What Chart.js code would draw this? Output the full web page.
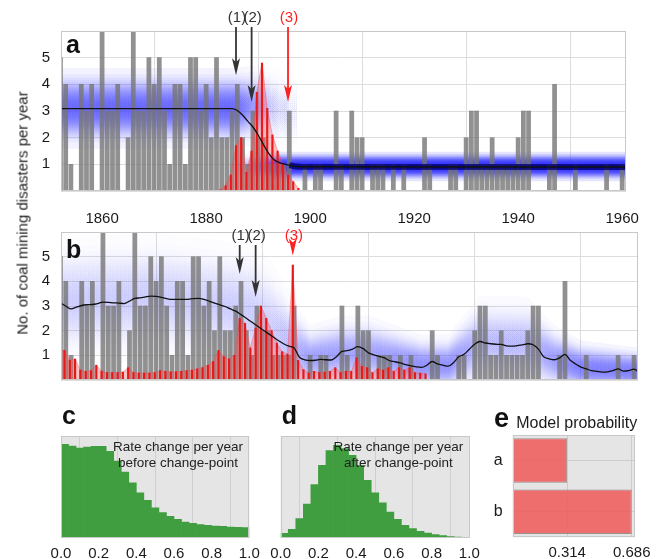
<!DOCTYPE html>
<html><head><meta charset="utf-8">
<script src="https://cdn.jsdelivr.net/npm/chart.js@4.4.1/dist/chart.umd.min.js"></script>
<style>
html,body{margin:0;padding:0;background:#fff;width:658px;height:559px;overflow:hidden;position:relative;}
canvas{position:absolute;}
#ytitle{position:absolute;left:22px;top:213px;transform:translate(-50%,-50%) rotate(-90deg);font:15px "Liberation Sans",Arial,Helvetica,sans-serif;color:#222;white-space:nowrap;}
</style></head><body>
<canvas id="ca" width="658" height="230" style="left:0;top:0"></canvas>
<canvas id="cb" width="658" height="200" style="left:0;top:200px"></canvas>
<canvas id="cc" width="270" height="159" style="left:0;top:400px"></canvas>
<canvas id="cd" width="228" height="159" style="left:262px;top:400px"></canvas>
<canvas id="ce" width="180" height="159" style="left:478px;top:400px"></canvas>
<div id="ytitle">No. of coal mining disasters per year</div>
<script>
// ---------------- data ----------------
const years = [1852,1853,1854,1855,1856,1857,1858,1859,1860,1861,1862,1863,1864,1865,1866,1867,1868,1869,1870,1871,1872,1873,1874,1875,1876,1877,1878,1879,1880,1881,1882,1883,1884,1885,1886,1887,1888,1889,1890,1891,1892,1893,1894,1895,1896,1897,1898,1899,1900,1901,1902,1903,1904,1905,1906,1907,1908,1909,1910,1911,1912,1913,1914,1915,1916,1917,1918,1919,1920,1921,1922,1923,1924,1925,1926,1927,1928,1929,1930,1931,1932,1933,1934,1935,1936,1937,1938,1939,1940,1941,1942,1943,1944,1945,1946,1947,1948,1949,1950,1951,1952,1953,1954,1955,1956,1957,1958,1959,1960,1961];
const disasters = [5,4,1,0,4,3,4,0,6,3,3,4,0,2,6,3,3,5,4,5,3,1,4,4,1,5,5,3,4,2,5,2,2,3,4,2,1,3,2,2,1,1,1,1,3,0,0,1,0,1,1,0,0,3,1,0,3,2,2,0,1,1,1,0,1,0,1,0,0,0,2,1,0,0,0,1,1,0,2,3,3,1,1,2,1,1,1,1,2,3,3,0,0,0,1,4,0,0,0,1,0,0,0,0,0,1,0,0,1,0];

// model a: single change-point mean rate
const meanAYears = [1852,1885,1886,1887,1888,1889,1890,1891,1892,1893,1894,1895,1896,1897,1898,1961];
const meanAValues = [3.09,3.09,3.02,2.85,2.62,2.4,2.1,1.75,1.42,1.18,1.07,1.01,0.97,0.93,0.91,0.9];
// model b: mean rate per year
const meanBValues = [3.12,3.0,2.88,2.95,3.02,3.05,3.06,3.1,3.16,3.15,3.13,3.12,3.1,3.2,3.31,3.33,3.37,3.4,3.39,3.35,3.3,3.27,3.27,3.27,3.27,3.3,3.31,3.27,3.2,3.12,3.05,2.98,2.88,2.79,2.65,2.5,2.35,2.2,2.05,1.9,1.75,1.6,1.47,1.37,1.3,0.92,0.82,0.79,0.8,0.84,0.82,0.81,0.95,1.16,1.19,1.25,1.35,1.27,1.1,1.02,0.96,0.9,0.78,0.74,0.69,0.62,0.57,0.53,0.51,0.6,0.75,0.65,0.6,0.56,0.7,0.94,1.04,1.25,1.45,1.56,1.5,1.47,1.45,1.44,1.38,1.37,1.39,1.42,1.47,1.43,1.25,0.94,0.86,0.82,0.9,1.04,0.8,0.65,0.52,0.45,0.38,0.35,0.32,0.33,0.38,0.45,0.36,0.38,0.44,0.3];

// change-point posterior (scaled), model a
const cpAYears = [1883,1884,1885,1886,1887,1888,1889,1890,1891,1892,1893,1894,1895,1896,1897,1898];
const cpAValues = [0.05,0.2,0.6,1.7,2.0,0.7,1.5,3.7,4.8,3.1,2.1,1.5,1.0,0.6,0.35,0.1];
// change-point posterior (scaled), model b
const cpBYears = [1852,1853,1854,1855,1856,1857,1858,1859,1860,1861,1862,1863,1864,1865,1866,1867,1868,1869,1870,1871,1872,1873,1874,1875,1876,1877,1878,1879,1880,1881,1882,1883,1884,1885,1886,1887,1888,1889,1890,1891,1892,1893,1894,1895,1896,1897,1898,1899,1900,1901,1902,1903,1904,1905,1906,1907,1908,1909,1910,1911,1912,1913,1914,1915,1916,1917,1918,1919,1920,1921];
const cpBValues = [1.25,1.2,0.8,0.85,0.4,0.35,0.38,0.6,0.35,0.3,0.3,0.3,0.32,0.5,0.3,0.28,0.28,0.28,0.3,0.38,0.35,0.33,0.33,0.35,0.38,0.4,0.45,0.5,0.6,0.75,1.2,0.95,0.85,1.0,2.5,2.3,1.3,2.1,3.0,2.5,2.0,1.5,1.15,1.05,4.66,0.8,0.42,0.28,0.35,0.3,0.32,0.35,0.5,0.3,0.35,0.35,0.9,0.55,0.5,0.3,0.45,0.4,0.5,0.35,0.5,0.4,0.5,0.3,0.28,0.25];

// posterior rate density bands
const bandAPreYears  = [1852,1885,1887,1889,1891,1893,1895,1897,1898];
const bandAPreMean   = [3.1,3.1,3.15,3.2,3.2,3.1,3.0,2.9,2.9];
const bandAPreSigma  = [0.55,0.55,0.55,0.55,0.55,0.55,0.55,0.55,0.55];
const bandAPreWeight = [1,1,0.85,0.65,0.45,0.3,0.2,0.06,0];
const bandAPostYears  = [1884,1886,1888,1890,1892,1894,1896,1898,1961];
const bandAPostMean   = [0.92,0.92,0.92,0.92,0.92,0.92,0.92,0.92,0.92];
const bandAPostSigma  = [0.2,0.2,0.2,0.2,0.2,0.2,0.2,0.2,0.2];
const bandAPostWeight = [0,0.1,0.25,0.45,0.65,0.8,0.9,1,1];
const bandBYears = [1852,1870,1884,1888,1892,1896,1899,1905,1910,1920,1925,1931,1940,1945,1950,1961];
const bandBMean  = [3.2,3.35,3.0,2.6,2.0,1.3,0.85,1.1,1.1,0.6,0.6,1.5,1.45,0.85,0.5,0.35];
const bandBSigma = [0.95,0.95,0.95,1.1,1.0,0.7,0.5,0.55,0.55,0.45,0.45,0.7,0.7,0.5,0.4,0.35];
const bandBWeight = [1,1,1,1,1,1,1,1,1,1,1,1,1,1,1,1];

// annotated change-points
const markYears = [1886,1889,1896];
const markLabels = ['(1)','(2)','(3)'];
const markTipsA = [4.34,3.34,3.34];
const markTipsB = [4.3,3.36,5.05];

// histograms of rate change per year
const rateBins = [0.02,0.06,0.10,0.14,0.18,0.22,0.26,0.30,0.34,0.38,0.42,0.46,0.50,0.54,0.58,0.62,0.66,0.70,0.74,0.78,0.82,0.86,0.90,0.94,0.98];
const rateBefore = [0.918,0.902,0.882,0.892,0.899,0.899,0.850,0.755,0.647,0.542,0.444,0.369,0.297,0.248,0.212,0.183,0.157,0.144,0.131,0.124,0.118,0.114,0.108,0.105,0.101];
const rateAfter = [0.046,0.085,0.190,0.333,0.523,0.712,0.856,0.908,0.876,0.810,0.712,0.565,0.444,0.346,0.255,0.183,0.124,0.092,0.065,0.049,0.033,0.023,0.013,0.010,0.007];

// model probability
const modelNames = ['a','b'];
const modelProbs = [0.314,0.686];

// ---------------- helpers ----------------
const FONT = '"Liberation Sans", Arial, Helvetica, sans-serif';
const SPIKE_SHIFT = -0.25;
const pts = (xs, ys, shift) => xs.map((x, i) => ({x: x + (shift || 0), y: ys[i]}));

const framePlugin = {
  id: 'frame',
  beforeDraw(chart, args, opts) {
    if (!opts.bg) return;
    const a = chart.chartArea, c = chart.ctx;
    c.save(); c.fillStyle = opts.bg; c.fillRect(a.left, a.top, a.right - a.left, a.bottom - a.top); c.restore();
  },
  afterDraw(chart, args, opts) {
    const a = chart.chartArea, c = chart.ctx;
    c.save(); c.strokeStyle = opts.color || '#c4c4c4'; c.lineWidth = 1;
    c.strokeRect(Math.round(a.left) + 0.5, Math.round(a.top) + 0.5, Math.round(a.right - a.left) - 1, Math.round(a.bottom - a.top) - 1);
    (opts.texts || []).forEach(t => {
      c.font = t.font; c.fillStyle = t.color || '#111'; c.textAlign = t.align || 'left'; c.textBaseline = t.baseline || 'alphabetic';
      c.fillText(t.text, t.x, t.y);
    });
    c.restore();
  }
};

const bandPlugin = {
  id: 'bands',
  beforeDatasetsDraw(chart, args, opts) {
    const bands = opts.list || [];
    const {ctx, chartArea: ca, scales: {x, y}} = chart;
    ctx.save();
    ctx.beginPath(); ctx.rect(ca.left, ca.top, ca.right - ca.left, ca.bottom - ca.top); ctx.clip();
    bands.forEach(b => {
      const n = b.x.length, L = b.layers || 22;
      const px = b.x.map(v => x.getPixelForValue(v));
      const x0 = px[0], x1 = px[n - 1];
      for (let j = 0; j < L; j++) {
        const k = Math.sqrt(-2 * Math.log((j + 0.5) / L));
        const grad = ctx.createLinearGradient(x0, 0, x1, 0);
        for (let i = 0; i < n; i++) {
          const A = Math.min(b.maxA, b.w[i] * b.K / b.s[i]);
          const al = 1 - Math.pow(1 - A, 1 / L);
          grad.addColorStop((px[i] - x0) / (x1 - x0), `rgba(${b.rgb},${al.toFixed(4)})`);
        }
        ctx.beginPath();
        for (let i = 0; i < n; i++) {
          const yy = y.getPixelForValue(b.m[i] + k * b.s[i]);
          if (i) ctx.lineTo(px[i], yy); else ctx.moveTo(px[i], yy);
        }
        for (let i = n - 1; i >= 0; i--) ctx.lineTo(px[i], y.getPixelForValue(b.m[i] - k * b.s[i]));
        ctx.closePath();
        ctx.fillStyle = grad; ctx.fill();
      }
    });
    ctx.restore();
  }
};

const arrowPlugin = {
  id: 'arrows',
  afterDraw(chart, args, opts) {
    if (!opts.items) return;
    const {ctx, scales: {x, y}} = chart;
    ctx.save();
    opts.items.forEach(it => {
      const xp = x.getPixelForValue(it.x);
      const tip = y.getPixelForValue(it.tip);
      ctx.fillStyle = it.color; ctx.strokeStyle = it.color;
      ctx.font = '15px ' + FONT; ctx.textAlign = 'center'; ctx.textBaseline = 'middle';
      ctx.fillText(it.label, xp + 1, opts.labelY);
      ctx.lineWidth = 1.8;
      ctx.beginPath(); ctx.moveTo(xp, opts.startY); ctx.lineTo(xp, tip - 12); ctx.stroke();
      ctx.beginPath(); ctx.moveTo(xp, tip); ctx.lineTo(xp - 4, tip - 17); ctx.lineTo(xp, tip - 13); ctx.lineTo(xp + 4, tip - 17); ctx.closePath(); ctx.fill();
    });
    ctx.restore();
  }
};
Chart.register(framePlugin, bandPlugin, arrowPlugin);

const tickFont = {family: FONT, size: 15};
function timeScales(showX) {
  return {
    x: {type: 'linear', min: 1852.1, max: 1960.75, offset: false,
        grid: {color: '#dddddd', drawTicks: false}, border: {display: false},
        ticks: {display: showX, stepSize: 20, includeBounds: false, font: tickFont, color: '#1a1a1a', padding: 19, callback: v => String(v), maxRotation: 0},
        afterFit: s => { s.height = showX ? 39 : 7; }},
    y: {min: 0, max: 6, grid: {color: '#dddddd', drawTicks: false}, border: {display: false},
        ticks: {stepSize: 1, font: tickFont, color: '#1a1a1a', padding: 11, callback: v => (v > 0 && v < 6) ? String(v) : ''},
        afterFit: s => { s.width = 61; }}
  };
}
const common = {responsive: false, animation: false, devicePixelRatio: 1, events: []};
const markItems = (tips) => markYears.map((yr, i) => ({x: yr + SPIKE_SHIFT, tip: tips[i], label: markLabels[i], color: i < 2 ? '#333333' : '#ff2020'}));

// ---------------- panel a ----------------
new Chart(document.getElementById('ca'), {
  type: 'bar',
  data: {datasets: [
    {type: 'line', data: pts(meanAYears, meanAValues), borderColor: '#111', borderWidth: 1.3, pointRadius: 0, cubicInterpolationMode: 'monotone', order: 0},
    {type: 'line', data: pts(meanAYears, meanAValues).filter(p => p.x >= 1896), borderColor: 'rgba(0,0,110,0.8)', borderWidth: 6, pointRadius: 0, order: 1},
    {type: 'bar', data: pts(cpAYears, cpAValues, SPIKE_SHIFT), backgroundColor: 'rgb(235,25,25)', barThickness: 1.5, grouped: false, order: 2},
    {type: 'line', data: pts(cpAYears, cpAValues, SPIKE_SHIFT), fill: 'origin', backgroundColor: 'rgba(255,80,80,0.35)', borderColor: 'rgba(255,60,60,0.5)', borderWidth: 0.8, pointRadius: 0, order: 3},
    {type: 'bar', data: pts(years, disasters), backgroundColor: 'rgba(118,118,118,0.8)', barThickness: 4.1, grouped: false, order: 5}
  ]},
  options: Object.assign({}, common, {
    layout: {padding: {top: 31, right: 20, left: 0, bottom: 0}},
    scales: timeScales(true),
    plugins: {legend: {display: false}, tooltip: {enabled: false},
      frame: {color: '#c8c8c8', texts: [{text: 'a', x: 66, y: 53, font: 'bold 25px ' + FONT}]},
      bands: {list: [
        {x: bandAPreYears, m: bandAPreMean, s: bandAPreSigma, w: bandAPreWeight, rgb: '60,60,255', K: 0.42, maxA: 0.85},
        {x: bandAPostYears, m: bandAPostMean, s: bandAPostSigma, w: bandAPostWeight, rgb: '40,40,255', K: 0.25, maxA: 0.95}
      ]},
      arrows: {labelY: 18, startY: 27, items: markItems(markTipsA)}
    }
  })
});

// ---------------- panel b ----------------
new Chart(document.getElementById('cb'), {
  type: 'bar',
  data: {datasets: [
    {type: 'line', data: pts(years, meanBValues), borderColor: '#111', borderWidth: 1.3, pointRadius: 0, cubicInterpolationMode: 'monotone', order: 0},
    {type: 'bar', data: pts(cpBYears, cpBValues, SPIKE_SHIFT), backgroundColor: 'rgb(230,25,25)', barThickness: 1.5, grouped: false, order: 2},
    {type: 'line', data: pts(cpBYears, cpBValues, SPIKE_SHIFT), fill: 'origin', backgroundColor: 'rgba(255,80,80,0.35)', borderColor: 'rgba(255,60,60,0.45)', borderWidth: 0.8, pointRadius: 0, order: 3},
    {type: 'bar', data: pts(years, disasters), backgroundColor: 'rgba(118,118,118,0.8)', barThickness: 4.1, grouped: false, order: 5}
  ]},
  options: Object.assign({}, common, {
    layout: {padding: {top: 32, right: 20, left: 0, bottom: 0}},
    scales: timeScales(false),
    plugins: {legend: {display: false}, tooltip: {enabled: false},
      frame: {color: '#c8c8c8', texts: [{text: 'b', x: 66, y: 58, font: 'bold 25px ' + FONT}]},
      bands: {list: [
        {x: bandBYears, m: bandBMean, s: bandBSigma, w: bandBWeight, rgb: '90,90,255', K: 0.3, maxA: 0.75}
      ]},
      arrows: {labelY: 36, startY: 45, items: markItems(markTipsB)}
    }
  })
});

// ---------------- panels c, d ----------------
function histChart(id, values, padL, letter, line2, textX) {
  new Chart(document.getElementById(id), {
    type: 'bar',
    data: {datasets: [{data: pts(rateBins, values), backgroundColor: 'rgb(64,158,64)', borderWidth: 0, barPercentage: 1, categoryPercentage: 1}]},
    options: Object.assign({}, common, {
      layout: {padding: {top: 36, right: 20.7, left: padL, bottom: 0}},
      scales: {
        x: {type: 'linear', min: 0, max: 1, offset: false, grid: {color: '#cfcfcf', drawTicks: false}, border: {display: false},
            ticks: {stepSize: 0.2, font: tickFont, color: '#1a1a1a', padding: 7, callback: v => v.toFixed(1), maxRotation: 0},
            afterFit: s => { s.height = 21; }},
        y: {display: false, min: 0, max: 1}
      },
      plugins: {legend: {display: false}, tooltip: {enabled: false},
        frame: {bg: '#e5e5e5', color: '#c8c8c8', texts: [
          {text: letter, x: padL + 1, y: 24, font: 'bold 25px ' + FONT},
          {text: 'Rate change per year', x: textX, y: 47, font: '13.5px ' + FONT, color: '#222', align: 'center', baseline: 'middle'},
          {text: line2, x: textX, y: 63, font: '13.5px ' + FONT, color: '#222', align: 'center', baseline: 'middle'}
        ]}
      }
    })
  });
}
histChart('cc', rateBefore, 61, 'c', 'before change-point', 178);
histChart('cd', rateAfter, 18.7, 'd', 'after change-point', 136.3);

// ---------------- panel e ----------------
new Chart(document.getElementById('ce'), {
  type: 'bar',
  data: {labels: modelNames, datasets: [{data: modelProbs, backgroundColor: 'rgba(240,88,88,0.85)', borderColor: 'rgba(120,110,110,0.7)', borderWidth: 1, borderSkipped: false, barPercentage: 0.87, categoryPercentage: 1}]},
  options: Object.assign({}, common, {
    indexAxis: 'y',
    layout: {padding: {top: 35, right: 18, left: 0, bottom: 0}},
    scales: {
      x: {type: 'linear', min: 0, max: 0.705, grid: {color: '#cdcdcd', drawTicks: false}, border: {display: false},
          afterBuildTicks: s => { s.ticks = modelProbs.map(v => ({value: v})); },
          ticks: {font: tickFont, color: '#1a1a1a', padding: 7, callback: v => v.toFixed(3), maxRotation: 0},
          afterFit: s => { s.height = 21.7; }},
      y: {grid: {color: '#cdcdcd', drawTicks: false, offset: false}, border: {display: false},
          ticks: {font: {family: FONT, size: 16}, color: '#1a1a1a', padding: 10},
          afterFit: s => { s.width = 34.7; }}
    },
    plugins: {legend: {display: false}, tooltip: {enabled: false},
      frame: {bg: '#e5e5e5', color: '#c8c8c8', texts: [
        {text: 'e', x: 16, y: 27, font: 'bold 27px ' + FONT},
        {text: 'Model probability', x: 98.7, y: 28, font: '16px ' + FONT, color: '#1a1a1a', align: 'center'}
      ]}
    }
  })
});
</script>
</body></html>
